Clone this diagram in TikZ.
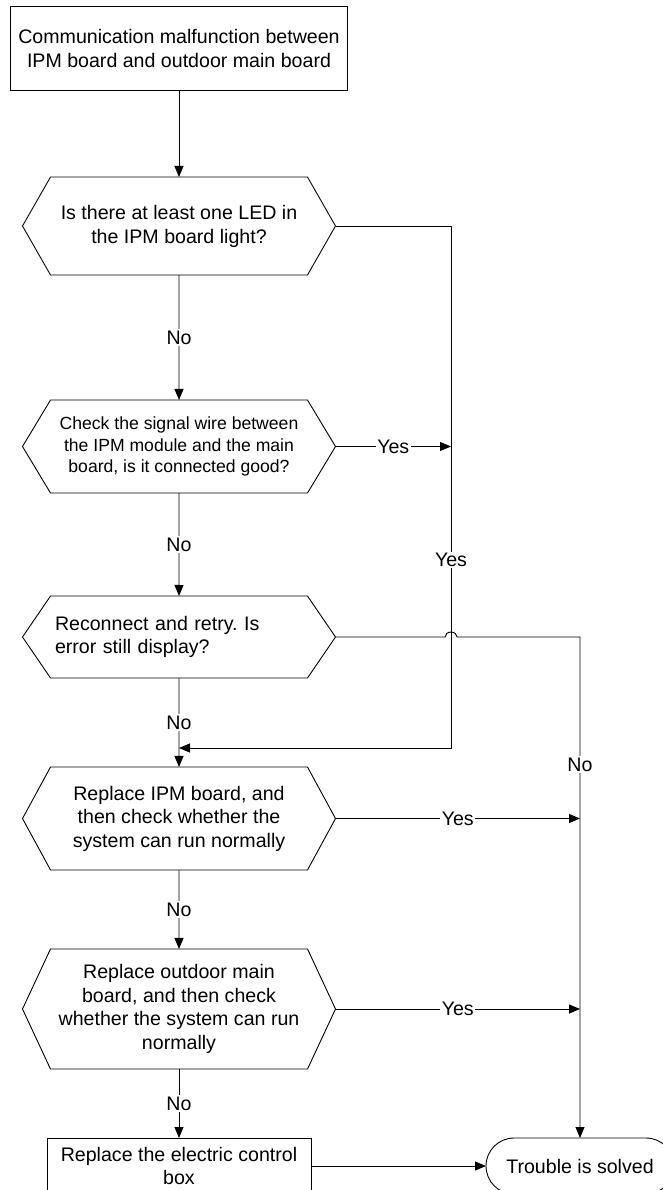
\documentclass[tikz,border=0pt]{standalone}
\usepackage{fontspec}
\setmainfont{Liberation Sans}
\usepackage{tikz}
\usetikzlibrary{arrows.meta,shapes.symbols,shapes.misc}
\frenchspacing

\begin{document}
\begin{tikzpicture}[x=1pt,y=-1pt,>={Triangle[length=11pt,width=9pt]},line width=0.9pt,
every node/.style={font=\fontsize{19.6}{23.5}\selectfont,inner sep=0pt,outer sep=0pt},
box/.style={draw,rectangle,align=center},
hexq/.style={draw,shape=signal,signal to=west and east,minimum width=313pt,align=center},
term/.style={draw,rounded rectangle,minimum width=188pt,minimum height=56pt},
lbl/.style={fill=white,inner sep=1.5pt}]
\useasboundingbox (0,0) rectangle (663,1190);
\node[box,minimum width=337pt,minimum height=84pt,font=\fontsize{19.6}{24}\selectfont](start)at(179,48){Communication malfunction between\\IPM board and outdoor main board};
\node[hexq,minimum height=98pt,signal pointer angle=120.5,font=\fontsize{19.6}{24}\selectfont](q1)at(179,226){Is there at least one LED in\\the IPM board light?};
\node[hexq,minimum height=93pt,signal pointer angle=117.9,font=\fontsize{17.6}{21.5}\selectfont](q2)at(179,446.5){Check the signal wire between\\the IPM module and the main\\board, is it connected good?};
\node[hexq,minimum height=82pt,signal pointer angle=111.3,align=left,text width=248pt](q3)at(179,637){Reconnect and retry. Is\\error still display?};
\node[hexq,minimum height=103pt,signal pointer angle=122.9](q4)at(179,818.5){Replace IPM board, and\\then check whether the\\system can run normally};
\node[hexq,minimum height=120pt,signal pointer angle=130](q5)at(179,1009){Replace outdoor main\\board, and then check\\whether the system can run\\normally};
\node[box,minimum width=264pt,minimum height=56pt](fix)at(179,1166){Replace the electric control\\box};
\node[term](done)at(580,1166){Trouble is solved};
\coordinate(busx)at(451,748);
\coordinate(merge)at(179,748);
\draw[->](start)--(q1);
\draw[->](q1)--node[lbl]{No}(q2);
\draw[->](q2)--node[lbl]{No}(q3);
\draw[->](q3)--node[lbl]{No}(q4);
\draw[->](q4)--node[lbl]{No}(q5);
\draw[->](q5)--node[lbl]{No}(fix);
\draw[->](q1.east)-|node[lbl,pos=0.82]{Yes}(busx)--(merge);
\draw[->](q2.east)--node[lbl]{Yes}(q2.east-|busx);
\draw[->](q3.east)--(445,637)arc[start angle=180,end angle=360,x radius=6,y radius=5]--(580,637)--node[lbl,pos=0.255]{No}(done.north);
\draw[->](q4.east)--node[lbl]{Yes}(q4.east-|done.north);
\draw[->](q5.east)--node[lbl]{Yes}(q5.east-|done.north);
\draw[->](fix.east)--(done.west);
\end{tikzpicture}
\end{document}
